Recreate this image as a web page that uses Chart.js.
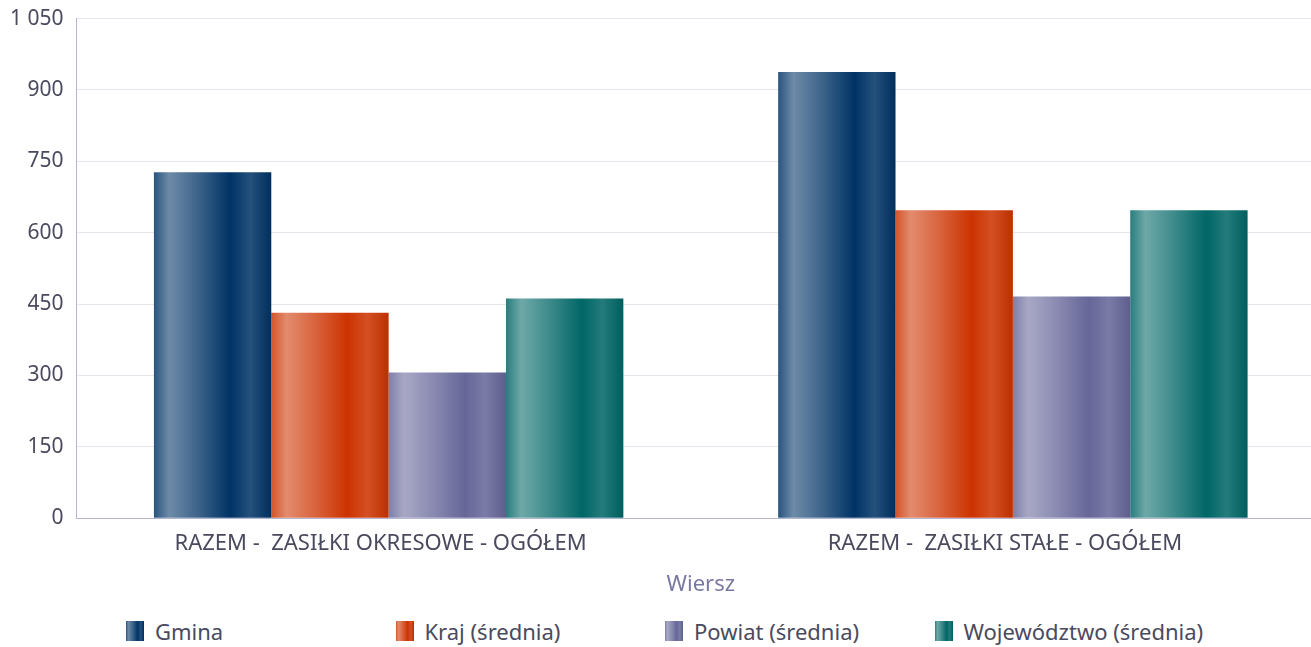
<!DOCTYPE html>
<html>
<head>
<meta charset="utf-8">
<script src="https://cdn.jsdelivr.net/npm/chart.js@4/dist/chart.umd.min.js"></script>
<style>
  html, body { margin: 0; padding: 0; background: #fff; overflow: hidden; }
  #wrap { position: absolute; left: 0; top: -7px; width: 1325px; height: 609px; }
  #legend { position: absolute; left: 126px; top: 616px; display: flex; font-family: "Noto Sans", sans-serif; font-size: 22px; color: #4a4a5e; }
  .item { width: 269.5px; display: flex; align-items: center; }
  .sw { width: 18px; height: 20px; margin-right: 11px; }
</style>
</head>
<body>
<div id="wrap"><canvas id="myChart"></canvas></div>
<div id="legend"></div>
<script>
const categories = ["RAZEM -  ZASIŁKI OKRESOWE - OGÓŁEM", "RAZEM -  ZASIŁKI STAŁE - OGÓŁEM"];
const seriesNames = ["Gmina", "Kraj (średnia)", "Powiat (średnia)", "Województwo (średnia)"];
const gmina = [727, 938];
const kraj = [432, 647];
const powiat = [306, 466];
const wojewodztwo = [462, 647];
const yTicks = [0, 150, 300, 450, 600, 750, 900, 1050];

const baseColors = ["#003366", "#cc3300", "#666699", "#006666"];

function mix(hex, other, t) {
  let a = parseInt(hex.slice(1), 16), b = parseInt(other.slice(1), 16);
  let r = Math.round(((a >> 16) & 255) * (1 - t) + ((b >> 16) & 255) * t);
  let g = Math.round(((a >> 8) & 255) * (1 - t) + ((b >> 8) & 255) * t);
  let bl = Math.round((a & 255) * (1 - t) + (b & 255) * t);
  return `rgb(${r},${g},${bl})`;
}

function stops(base) {
  return [
    [0, mix(base, "#ffffff", 0.16)],
    [0.13, mix(base, "#ffffff", 0.43)],
    [0.36, mix(base, "#ffffff", 0.25)],
    [0.65, base],
    [0.82, mix(base, "#ffffff", 0.14)],
    [1, mix(base, "#000000", 0.08)],
  ];
}

// each bar gets its own horizontal gradient
const barGradient = {
  id: "barGradient",
  beforeDatasetsDraw(chart) {
    const ctx = chart.ctx;
    chart.data.datasets.forEach((ds, i) => {
      const meta = chart.getDatasetMeta(i);
      meta.data.forEach((bar) => {
        const left = bar.x - bar.width / 2;
        const grad = ctx.createLinearGradient(left, 0, left + bar.width, 0);
        stops(baseColors[i]).forEach((s) => grad.addColorStop(s[0], s[1]));
        bar.options.backgroundColor = grad;
      });
    });
  },
};

const allData = [gmina, kraj, powiat, wojewodztwo];

new Chart(document.getElementById("myChart"), {
  type: "bar",
  data: {
    labels: categories,
    datasets: allData.map((d, i) => ({
      label: seriesNames[i],
      data: d,
      backgroundColor: () => baseColors[i],
      borderWidth: 0,
      categoryPercentage: 0.752,
      barPercentage: 1,
    })),
  },
  options: {
    responsive: true,
    maintainAspectRatio: false,
    animation: false,
    layout: { padding: { top: 0, left: -3, right: 0, bottom: 0 } },
    plugins: {
      legend: { display: false },
      tooltip: { enabled: false },
    },
    scales: {
      x: {
        grid: { display: false, drawTicks: false },
        border: { color: "#b4b6d2", width: 1 },
        ticks: { color: "#4a4a5e", font: { family: "Noto Sans", size: 22 }, padding: 12, labelOffset: -8 },
        title: { display: true, text: "Wiersz", color: "#7878a4", font: { family: "Noto Sans", size: 22 }, padding: { top: 3 } },
      },
      y: {
        min: 0,
        max: 1050,
        afterBuildTicks: (axis) => { axis.ticks = yTicks.map((v) => ({ value: v })); },
        grid: { color: "#e6e6ee", drawTicks: false },
        border: { color: "#b4b6d2", width: 1 },
        ticks: {
          color: "#4a4a5e",
          font: { family: "Noto Sans", size: 21 },
          padding: 13,
          callback: (v) => v.toString().replace(/\B(?=(\d{3})+(?!\d))/g, " "),
        },
      },
    },
  },
  plugins: [barGradient],
});

// legend
const legend = document.getElementById("legend");
seriesNames.forEach((name, i) => {
  const item = document.createElement("div");
  item.className = "item";
  const sw = document.createElement("div");
  sw.className = "sw";
  sw.style.background = "linear-gradient(to right, " + stops(baseColors[i]).map((s) => s[1] + " " + s[0] * 100 + "%").join(", ") + ")";
  const txt = document.createElement("span");
  txt.textContent = name;
  item.appendChild(sw);
  item.appendChild(txt);
  legend.appendChild(item);
});
</script>
</body>
</html>
